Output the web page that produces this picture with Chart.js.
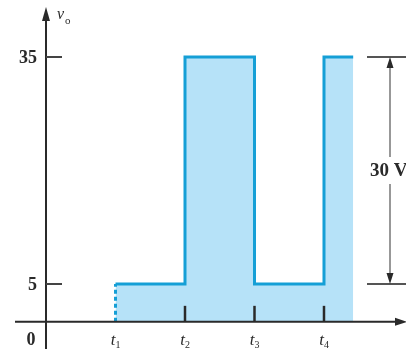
<!DOCTYPE html>
<html>
<head>
<meta charset="utf-8">
<script src="https://cdn.jsdelivr.net/npm/chart.js@4"></script>
<style>
  html, body { margin: 0; padding: 0; background: #fff; }
  canvas { display: block; }
</style>
</head>
<body>
<canvas id="wave" width="406" height="349"></canvas>
<script>
// waveform data: switching instants and the level held after each
const switchTimes = [1, 2, 3, 4, 4.42];
const levels = [5, 35, 5, 35];
const tickValues = [1, 2, 3, 4];
const tickLabels = ["1", "2", "3", "4"];
const yTickValues = [35, 5];
const yTickLabels = ["35", "5"];

const LINE = "#159fd6";
const FILL = "#b6e2f8";
const INK = "#2a2a2a";

// build the corner points of the stepped waveform, starting from 0 at t1
function buildPoints() {
    const pts = [{ x: switchTimes[0], y: 0 }];
    for (let i = 0; i < levels.length; i++) {
        pts.push({ x: switchTimes[i], y: levels[i] });
        pts.push({ x: switchTimes[i + 1], y: levels[i] });
    }
    return pts;
}

const axesPlugin = {
    id: "axes",
    afterDatasetsDraw(chart) {
        const ctx = chart.ctx;
        const xs = chart.scales.x, ys = chart.scales.y;
        const x0 = xs.getPixelForValue(0), y0 = ys.getPixelForValue(0);
        ctx.save();

        // axes
        ctx.strokeStyle = INK;
        ctx.fillStyle = INK;
        ctx.lineWidth = 2;
        ctx.beginPath();
        ctx.moveTo(15, y0); ctx.lineTo(398, y0);
        ctx.moveTo(x0, 349); ctx.lineTo(x0, 18);
        ctx.stroke();
        ctx.beginPath();
        ctx.moveTo(x0, 7); ctx.lineTo(x0 - 4, 21); ctx.lineTo(x0 + 4, 21); ctx.closePath();
        ctx.fill();
        ctx.beginPath();
        ctx.moveTo(407, y0); ctx.lineTo(395, y0 - 4); ctx.lineTo(395, y0 + 4); ctx.closePath();
        ctx.fill();

        // x ticks and labels
        tickValues.forEach((v, i) => {
            const px = xs.getPixelForValue(v);
            if (i > 0) {
                ctx.lineWidth = 2.5;
                ctx.beginPath();
                ctx.moveTo(px, y0 - 16); ctx.lineTo(px, y0);
                ctx.stroke();
            }
            ctx.textBaseline = "alphabetic";
            ctx.textAlign = "right";
            ctx.font = "italic 17px 'Liberation Serif'";
            ctx.fillText("t", px, 345);
            ctx.textAlign = "left";
            ctx.font = "10px 'Liberation Serif'";
            ctx.fillText(tickLabels[i], px, 348);
        });

        // y ticks and labels
        ctx.lineWidth = 2;
        ctx.strokeStyle = "#444";
        ctx.font = "bold 18px 'Liberation Serif'";
        ctx.textAlign = "right";
        ctx.textBaseline = "middle";
        yTickValues.forEach((v, i) => {
            const py = ys.getPixelForValue(v);
            ctx.beginPath();
            ctx.moveTo(x0, py); ctx.lineTo(x0 + 16, py);
            ctx.stroke();
            ctx.fillText(yTickLabels[i], 37, py + 1);
        });
        ctx.textAlign = "center";
        ctx.fillText("0", 31, 340);

        // v_o axis name
        ctx.textAlign = "left";
        ctx.textBaseline = "alphabetic";
        ctx.font = "italic 16px 'Liberation Serif'";
        ctx.fillText("v", 57, 19);
        ctx.font = "11px 'Liberation Serif'";
        ctx.fillText("o", 65, 24);

        // 30 V dimension on the right
        const hi = Math.max(...levels), lo = Math.min(...levels);
        const yHi = ys.getPixelForValue(hi), yLo = ys.getPixelForValue(lo);
        const dx = 390;
        ctx.strokeStyle = "#555";
        ctx.fillStyle = INK;
        ctx.lineWidth = 2;
        ctx.beginPath();
        ctx.moveTo(367, yHi); ctx.lineTo(406, yHi);
        ctx.moveTo(367, yLo); ctx.lineTo(406, yLo);
        ctx.stroke();
        ctx.lineWidth = 1.5;
        ctx.strokeStyle = "#777";
        ctx.beginPath();
        ctx.moveTo(dx, yHi + 8); ctx.lineTo(dx, 157);
        ctx.moveTo(dx, 184); ctx.lineTo(dx, yLo - 8);
        ctx.stroke();
        ctx.beginPath();
        ctx.moveTo(dx, yHi); ctx.lineTo(dx - 3.5, yHi + 11); ctx.lineTo(dx + 3.5, yHi + 11); ctx.closePath();
        ctx.moveTo(dx, yLo); ctx.lineTo(dx - 3.5, yLo - 11); ctx.lineTo(dx + 3.5, yLo - 11); ctx.closePath();
        ctx.fill();
        ctx.font = "bold 19px 'Liberation Serif'";
        ctx.textBaseline = "middle";
        ctx.fillText((hi - lo) + " V", 370, 171);

        ctx.restore();
    }
};

new Chart(document.getElementById("wave"), {
    type: "line",
    data: {
        datasets: [{
            data: buildPoints(),
            borderColor: LINE,
            backgroundColor: FILL,
            borderWidth: 3,
            fill: "origin",
            pointRadius: 0,
            tension: 0,
            borderJoinStyle: "miter",
            segment: {
                borderDash: c => c.p0DataIndex === 0 ? [4, 3] : undefined
            }
        }]
    },
    options: {
        responsive: false,
        animation: false,
        layout: { padding: 0 },
        plugins: { legend: { display: false }, tooltip: { enabled: false } },
        scales: {
            x: { type: "linear", display: false, min: -0.662, max: 5.18 },
            y: { type: "linear", display: false, min: -3.59, max: 42.53 }
        }
    },
    plugins: [axesPlugin]
});
</script>
</body>
</html>
